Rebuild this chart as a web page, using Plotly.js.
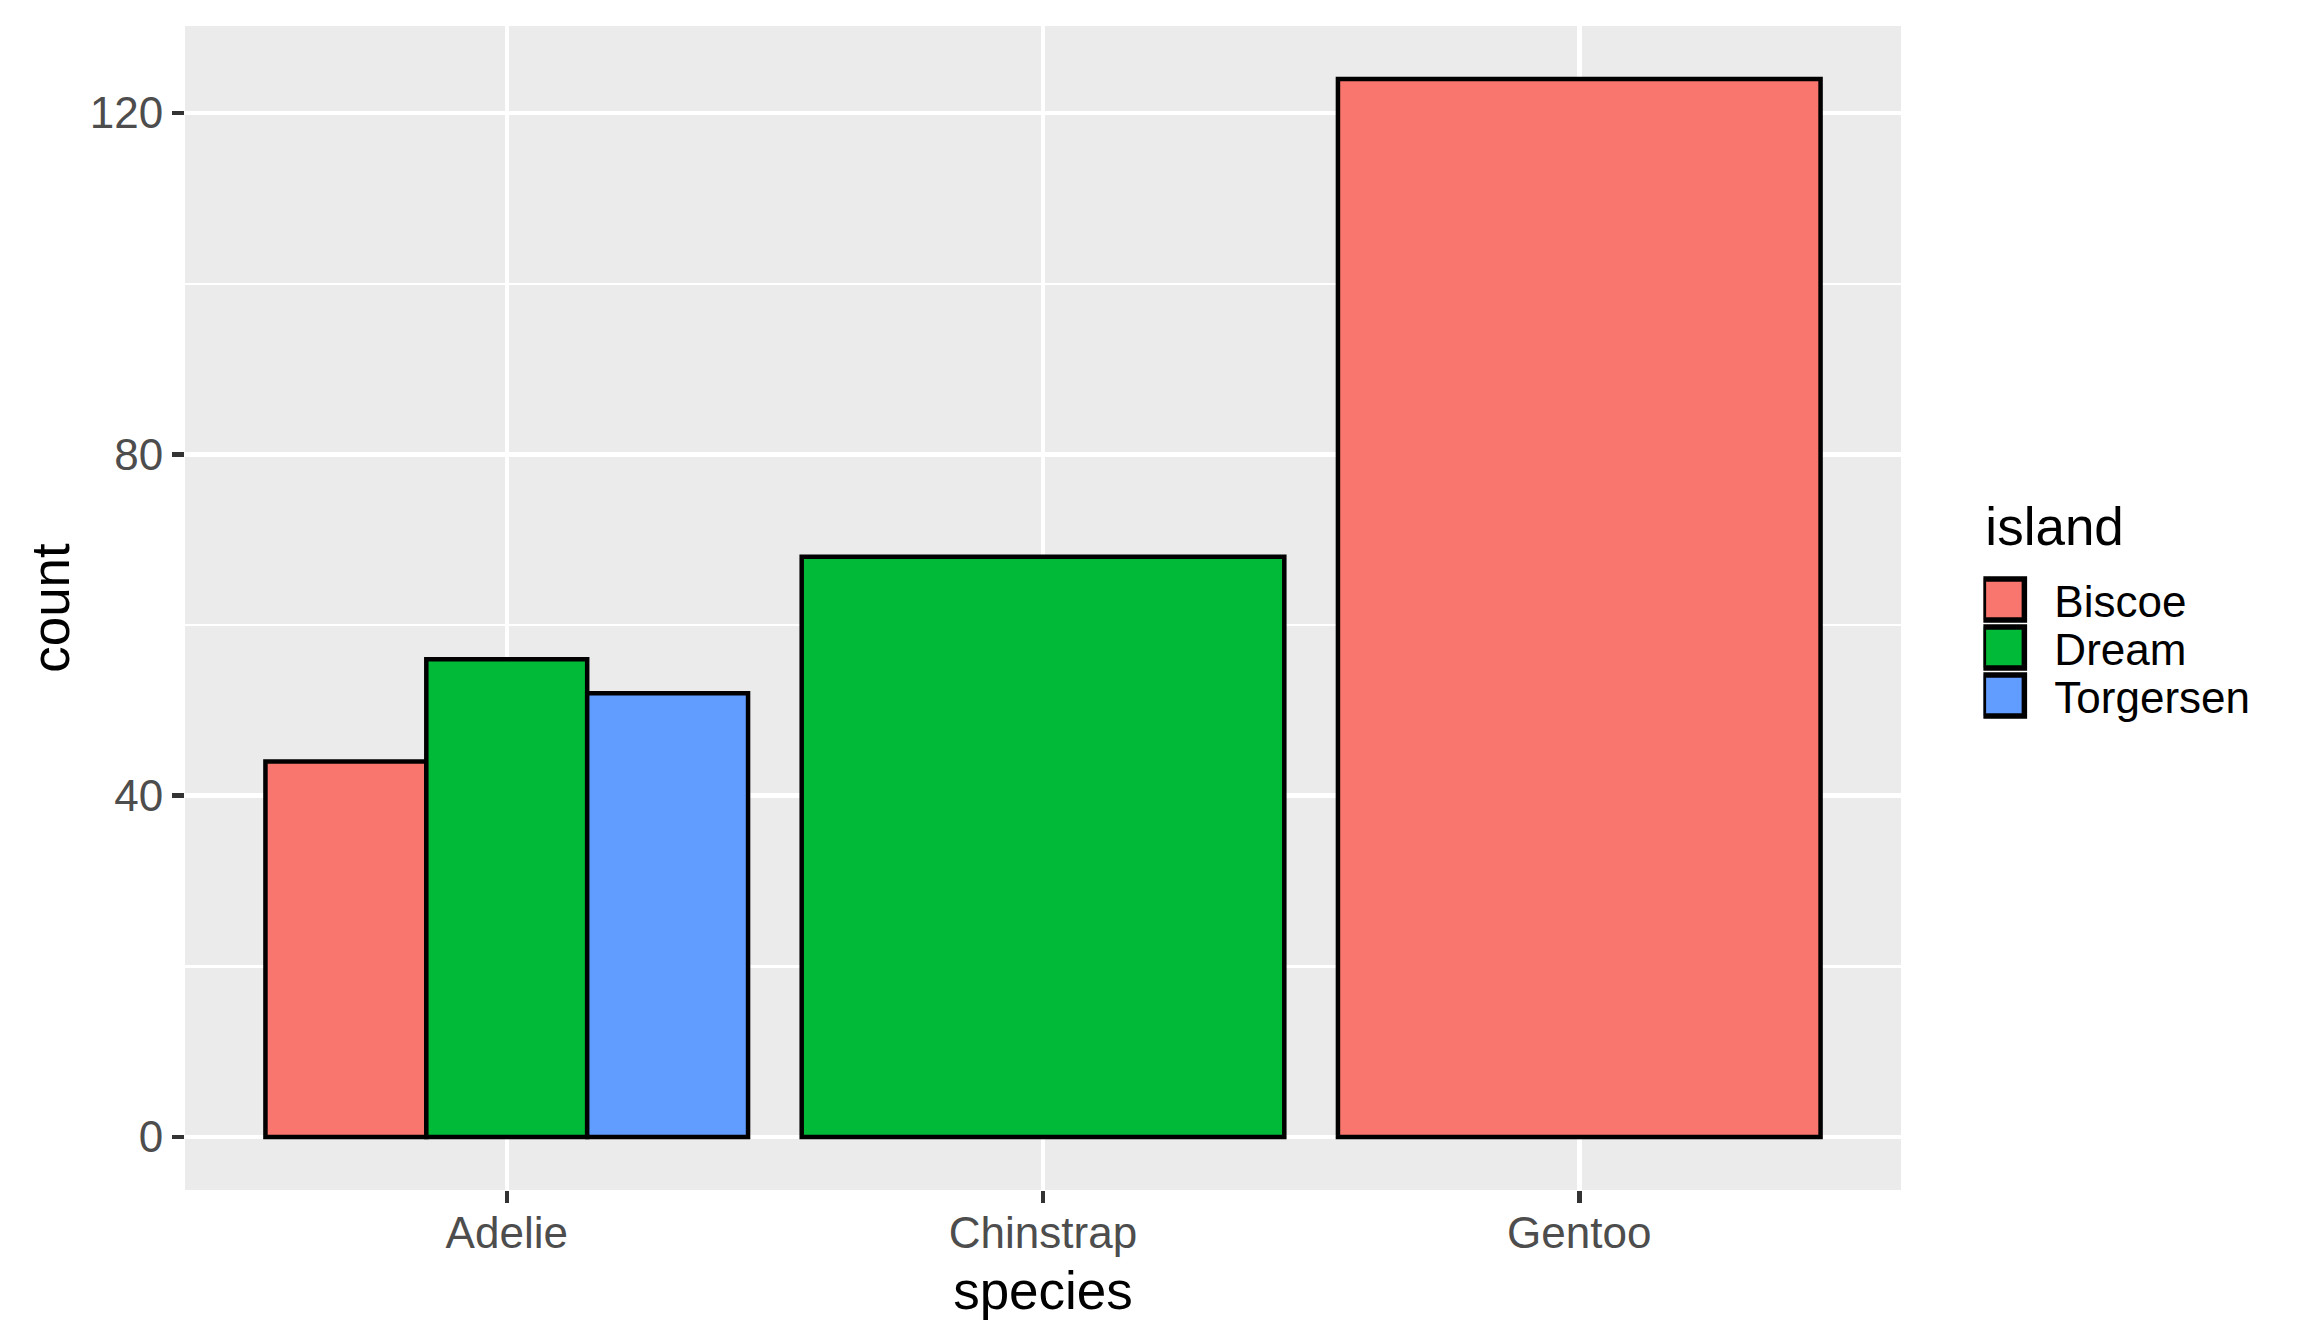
<!DOCTYPE html>
<html>
<head>
<meta charset="utf-8">
<script src="https://cdn.plot.ly/plotly-3.0.1.min.js"></script>
<style>
  html, body { margin: 0; padding: 0; background: #ffffff; }
  #chart { width: 2304px; height: 1344px; }
</style>
</head>
<body>
<div id="chart"></div>
<script>
// counts of penguins per species / island
const species = ['Adelie', 'Chinstrap', 'Gentoo'];
const islands = ['Biscoe', 'Dream', 'Torgersen'];
const islandColors = ['#F8766D', '#00BA38', '#619CFF'];

const rowSpecies = ['Adelie', 'Adelie', 'Adelie', 'Chinstrap', 'Gentoo'];
const rowIsland = ['Biscoe', 'Dream', 'Torgersen', 'Dream', 'Biscoe'];
const rowCount = [44, 56, 52, 68, 124];

const yTicks = [0, 40, 80, 120];
const yMinorTicks = [20, 60, 100];

// position_dodge: split the 0.9 wide slot between the islands present
const slotWidth = 0.9;

function dodge() {
    let out = [];
    for (let i = 0; i < rowSpecies.length; i++) {
        let members = [];
        for (let j = 0; j < rowSpecies.length; j++) {
            if (rowSpecies[j] == rowSpecies[i]) members.push(islands.indexOf(rowIsland[j]));
        }
        members.sort();
        let w = slotWidth / members.length;
        let pos = members.indexOf(islands.indexOf(rowIsland[i]));
        let center = species.indexOf(rowSpecies[i]) + 1;
        out.push({ x: center - slotWidth / 2 + w * (pos + 0.5), w: w });
    }
    return out;
}

const placed = dodge();

let traces = [];
islands.forEach((isl, ii) => {
    let xs = [], ys = [], ws = [];
    for (let i = 0; i < rowIsland.length; i++) {
        if (rowIsland[i] == isl) {
            xs.push(placed[i].x);
            ys.push(rowCount[i]);
            ws.push(placed[i].w);
        }
    }
    traces.push({
        type: 'bar',
        name: isl,
        x: xs,
        y: ys,
        width: ws,
        marker: { color: islandColors[ii], line: { color: '#000000', width: 4.5 } },
        hoverinfo: 'skip'
    });
});

const yMax = Math.max(...rowCount);
const pad = yMax * 0.05;

const layout = {
    width: 2304,
    height: 1344,
    margin: { l: 185, r: 403, t: 26, b: 154 },
    paper_bgcolor: '#ffffff',
    plot_bgcolor: '#EBEBEB',
    barmode: 'overlay',
    font: { family: 'Liberation Sans, Arial, sans-serif', size: 44, color: '#000000' },
    showlegend: true,
    xaxis: {
        range: [0.4, species.length + 0.6],
        tickvals: species.map((s, i) => i + 1),
        ticktext: species,
        ticks: 'outside',
        ticklen: 12,
        tickwidth: 4.5,
        tickcolor: '#333333',
        tickfont: { size: 44, color: '#4D4D4D' },
        ticklabelstandoff: -8,
        showgrid: true,
        gridcolor: '#ffffff',
        gridwidth: 4.5,
        zeroline: false,
        showline: false,
        title: { text: 'species', font: { size: 53, color: '#000000' }, standoff: 16 }
    },
    yaxis: {
        range: [-pad, yMax + pad],
        tickvals: yTicks,
        ticks: 'outside',
        ticklen: 12,
        tickwidth: 4.5,
        tickcolor: '#333333',
        tickfont: { size: 44, color: '#4D4D4D' },
        showgrid: true,
        gridcolor: '#ffffff',
        gridwidth: 4.5,
        minor: { tickvals: yMinorTicks, showgrid: true, gridcolor: '#ffffff', gridwidth: 2.3, ticks: '' },
        zeroline: false,
        showline: false,
        title: { text: 'count', font: { size: 53, color: '#000000' }, standoff: 3 }
    },
    legend: {
        x: 1.048,
        xanchor: 'left',
        y: 0.6,
        yanchor: 'top',
        bgcolor: 'rgba(0,0,0,0)',
        borderwidth: 0,
        itemwidth: 61,
        font: { size: 44, color: '#000000' },
        title: { text: 'island', font: { size: 53, color: '#000000' } },
        tracegroupgap: 0,
        itemclick: false
    }
};

Plotly.newPlot('chart', traces, layout, { displayModeBar: false, staticPlot: true }).then(() => {
    // ggplot keys are ~41px squares stacked 48px apart; plotly draws 12px ones
    document.querySelectorAll('.legend .legendpoints path').forEach(p => {
        p.setAttribute('d', 'M5.5,20.5H-35.5V-20.5H5.5Z');
        p.style.strokeWidth = '5.5px';
    });
    let items = document.querySelectorAll('.legend .traces');
    let first = null;
    items.forEach((g, i) => {
        let m = /translate\(\s*([-\d.]+)[ ,]+([-\d.]+)\s*\)/.exec(g.getAttribute('transform') || '');
        if (!m) return;
        if (first === null) first = parseFloat(m[2]) + 4;
        g.setAttribute('transform', 'translate(' + m[1] + ',' + (first + i * 48) + ')');
    });
    // lift the legend title a little
    document.querySelectorAll('.legend .legendtitletext').forEach(t => {
        let y = parseFloat(t.getAttribute('y') || '0');
        t.setAttribute('y', y - 15);
    });
});
</script>
</body>
</html>
